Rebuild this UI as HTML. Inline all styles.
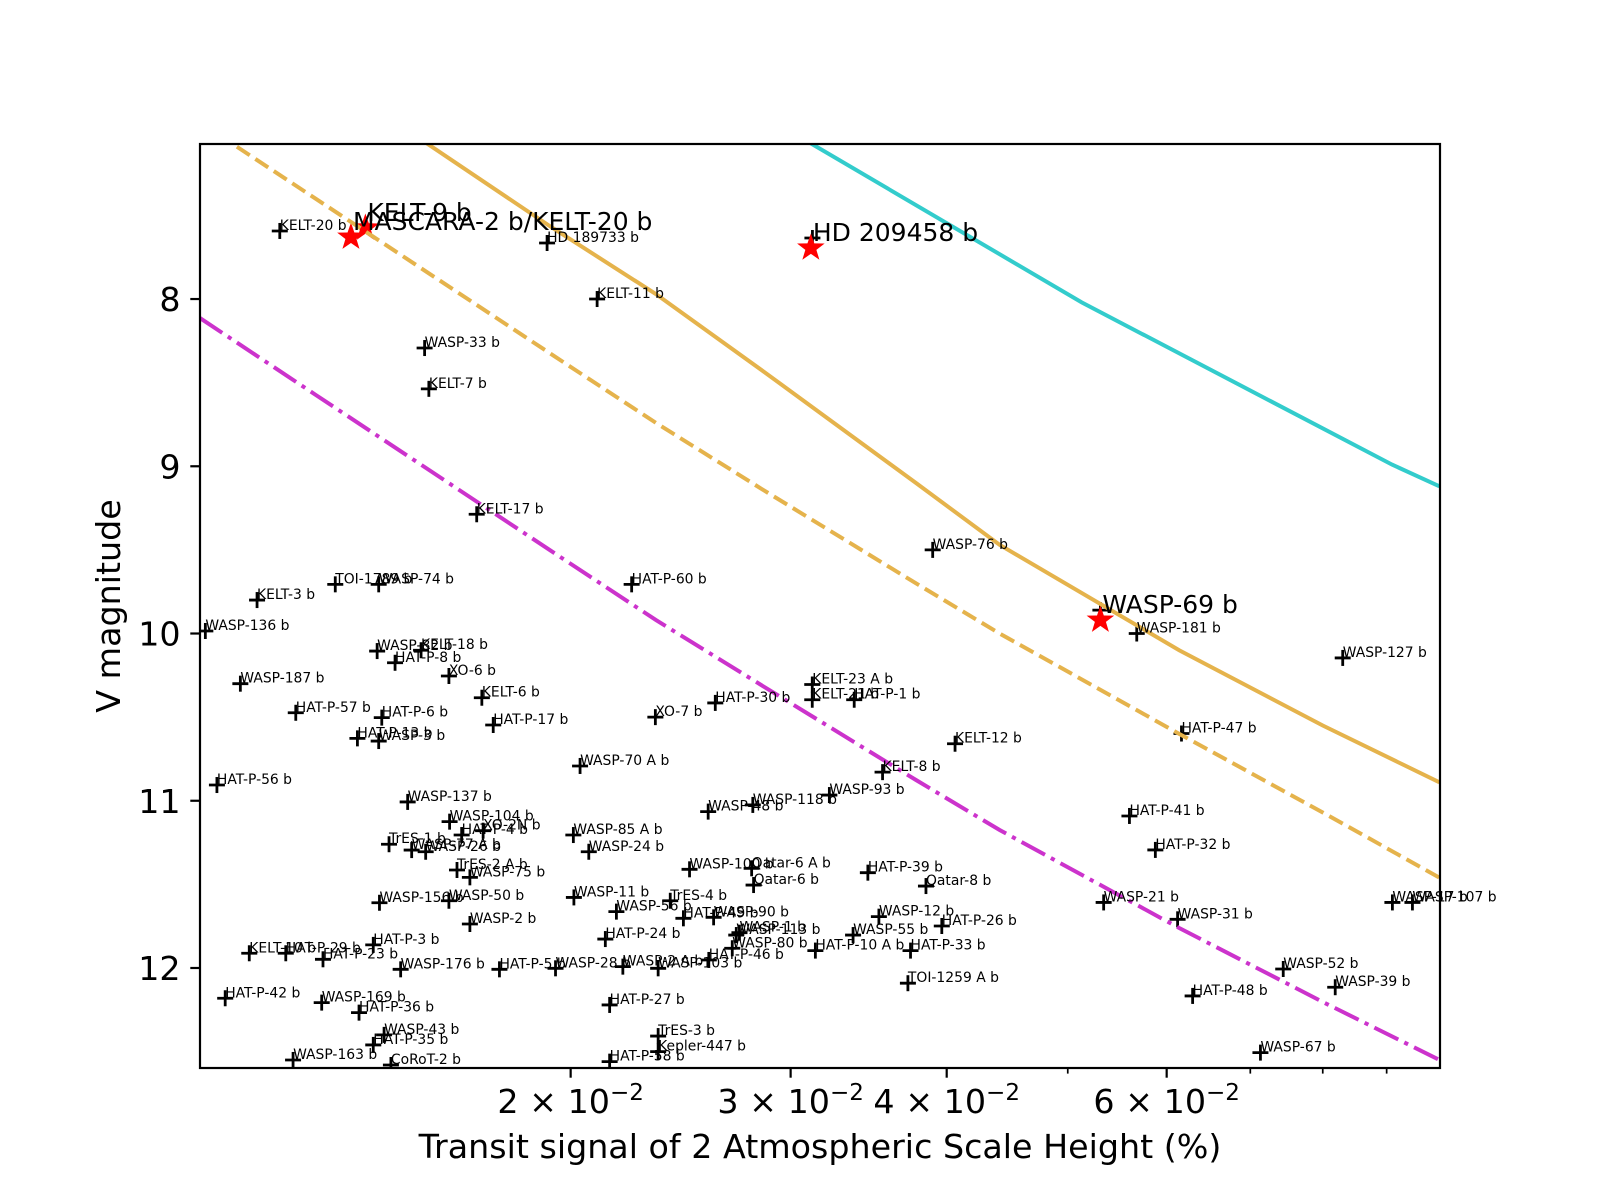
<!DOCTYPE html>
<html>
<head>
<meta charset="utf-8">
<style>
  html,body{margin:0;padding:0;background:#fff;}
  svg{display:block;font-family:"DejaVu Sans","Liberation Sans",sans-serif;}
</style>
</head>
<body>
<svg id="chart" width="1600" height="1200" viewBox="0 0 1600 1200" xmlns="http://www.w3.org/2000/svg">
  <rect x="0" y="0" width="1600" height="1200" fill="#fff"/>
  <defs>
    <clipPath id="plotclip"><rect x="200" y="144" width="1240" height="924"/></clipPath>
  </defs>
  <g id="marks" clip-path="url(#plotclip)"></g>
  <g id="labels"></g>
  <g id="axes"></g>
</svg>
<script>
// ---------- data ----------
const planetNames = ["KELT-20 b","HD 189733 b","KELT-11 b","","WASP-33 b","KELT-7 b","KELT-17 b","WASP-76 b","TOI-1789 b","WASP-74 b","KELT-3 b","HAT-P-60 b","WASP-136 b","","WASP-181 b","WASP-127 b","WASP-82 b","KELT-18 b","HAT-P-8 b","XO-6 b","WASP-187 b","KELT-23 A b","KELT-6 b","HAT-P-30 b","KELT-21 b","HAT-P-1 b","HAT-P-57 b","HAT-P-6 b","XO-7 b","HAT-P-17 b","HAT-P-47 b","HAT-P-13 b","WASP-3 b","KELT-12 b","WASP-70 A b","KELT-8 b","HAT-P-56 b","WASP-93 b","WASP-137 b","WASP-118 b","WASP-48 b","HAT-P-41 b","WASP-104 b","HAT-P-4 b","XO-2N b","WASP-85 A b","TrES-1 b","WASP-77 A b","WASP-26 b","WASP-24 b","HAT-P-32 b","WASP-100 b","Qatar-6 A b","HAT-P-39 b","TrES-2 A b","WASP-75 b","Qatar-6 b","Qatar-8 b","WASP-11 b","TrES-4 b","WASP-156 b","WASP-50 b","WASP-21 b","WASP-17 b","WASP-107 b","WASP-56 b","HAT-P-49 b","WASP-90 b","WASP-12 b","WASP-31 b","WASP-2 b","HAT-P-26 b","WASP-1 b","WASP-113 b","WASP-55 b","HAT-P-24 b","HAT-P-3 b","WASP-80 b","HAT-P-10 A b","HAT-P-33 b","KELT-10 b","HAT-P-29 b","HAT-P-23 b","HAT-P-46 b","WASP-2 A b","WASP-176 b","HAT-P-5 b","WASP-28 b","WASP-103 b","WASP-52 b","TOI-1259 A b","WASP-39 b","HAT-P-48 b","HAT-P-42 b","WASP-169 b","HAT-P-27 b","HAT-P-36 b","WASP-43 b","TrES-3 b","HAT-P-35 b","Kepler-447 b","WASP-67 b","HAT-P-58 b","WASP-163 b","CoRoT-2 b","",""];
const planetSignal = [0.01170,0.01915,0.0210,0.03123,0.01528,0.01540,0.01682,0.03898,0.01296,0.01404,0.01122,0.02238,0.01020,0.0531,0.05678,0.0830,0.0140,0.01518,0.01447,0.01598,0.01088,0.03122,0.01698,0.02611,0.03122,0.03373,0.01205,0.01412,0.02338,0.01734,0.06166,0.0135,0.01404,0.04062,0.02035,0.03554,0.01042,0.03222,0.01481,0.02798,0.02577,0.05602,0.0160,0.01636,0.01702,0.0201,0.01431,0.01492,0.01531,0.02068,0.05876,0.0249,0.02792,0.03459,0.01622,0.01661,0.02802,0.0385,0.02012,0.02403,0.01406,0.01598,0.05342,0.09096,0.09438,0.02176,0.02462,0.02603,0.0353,0.06122,0.01661,0.03964,0.0273,0.02714,0.03366,0.02132,0.0139,0.02694,0.0314,0.03742,0.01106,0.01183,0.01267,0.0258,0.02202,0.01462,0.01754,0.01945,0.0235,0.07438,0.03724,0.08186,0.06294,0.01058,0.01264,0.02149,0.01354,0.01418,0.0235,0.0139,0.0235,0.07132,0.02149,0.01199,0.01436,0.01342,0.02686];
const planetVmag = [7.593,7.665,8.00,7.635,8.293,8.537,9.287,9.50,9.706,9.706,9.80,9.706,9.985,9.86,10.0,10.146,10.105,10.10,10.175,10.254,10.30,10.305,10.384,10.415,10.396,10.396,10.474,10.503,10.50,10.547,10.598,10.627,10.643,10.659,10.792,10.829,10.906,10.966,11.007,11.025,11.065,11.091,11.125,11.205,11.179,11.205,11.26,11.295,11.305,11.305,11.294,11.41,11.404,11.43,11.414,11.458,11.504,11.51,11.578,11.598,11.61,11.598,11.608,11.608,11.608,11.663,11.703,11.697,11.693,11.709,11.737,11.749,11.789,11.803,11.803,11.827,11.862,11.882,11.896,11.896,11.912,11.912,11.948,11.952,11.992,12.008,12.008,12.002,12.002,12.006,12.091,12.115,12.167,12.181,12.207,12.221,12.267,12.40,12.407,12.46,12.50,12.506,12.56,12.55,12.58,12.65,12.65];

const starNames = ["MASCARA-2 b/KELT-20 b","KELT-9 b","HD 209458 b","WASP-69 b"];
const starSignal = [0.01334,0.0137,0.03114,0.0531];
const starVmag = [7.63,7.575,7.695,9.92];

const curveSignal = [0.0101,0.0125,0.015,0.0193,0.0234,0.0285,0.0378,0.0441,0.0614,0.0800,0.0992];
const magentaVmag = [8.114,8.573,8.965,9.507,9.919,10.314,10.876,11.175,11.761,12.203,12.55];
const dashedVmag = [6.944,7.40,7.79,8.33,8.74,9.14,9.70,10.00,10.60,11.07,11.46];
const solidVmag = [6.16,6.62,7.02,7.57,7.97,8.43,9.10,9.47,10.10,10.55,10.89];
const cyanSignal = [0.0285,0.0312,0.0513,0.0909,0.0992];
const cyanVmag = [6.90,7.073,8.02,8.99,9.12];

const yTicks = [8,9,10,11,12];
const yTickLabels = ["8","9","10","11","12"];
const xMajorTicks = [0.02,0.03,0.04,0.06];
const xMajorMantissa = ["2","3","4","6"];
const xMinorTicks = [0.05,0.07,0.08,0.09];

// ---------- scales ----------
const X0=200, X1=1440, Y0=144, Y1=1068;
const xMin=0.0101, xMax=0.0993, vTop=7.073, vBot=12.598;
function xScale(v){return X0+(X1-X0)*(Math.log10(v)-Math.log10(xMin))/(Math.log10(xMax)-Math.log10(xMin));}
function yScale(m){return Y0+(Y1-Y0)*(m-vTop)/(vBot-vTop);}

const NS="http://www.w3.org/2000/svg";
function mk(tag,attrs,parent){const e=document.createElementNS(NS,tag);for(const k in attrs)e.setAttribute(k,attrs[k]);if(parent)parent.appendChild(e);return e;}
const marks=document.getElementById('marks');
const labels=document.getElementById('labels');
const axes=document.getElementById('axes');

// plus markers
for(let i=0;i<planetSignal.length;i++){
  const cx=xScale(planetSignal[i]), cy=yScale(planetVmag[i]);
  const g=mk('g',{},marks);
  
  
  mk('line',{x1:cx-8,y1:cy,x2:cx+8,y2:cy,stroke:'#000','stroke-width':2.8},g);
  mk('line',{x1:cx,y1:cy-8,x2:cx,y2:cy+8,stroke:'#000','stroke-width':2.8},g);
}
// stars
function starPath(cx,cy,R,r){let d='';for(let k=0;k<10;k++){const rad=k%2?r:R;const a=-Math.PI/2+k*Math.PI/5;d+=(k?'L':'M')+(cx+rad*Math.cos(a)).toFixed(2)+','+(cy+rad*Math.sin(a)).toFixed(2);}return d+'Z';}
for(let i=0;i<starSignal.length;i++){
  const p=mk('path',{d:starPath(xScale(starSignal[i]),yScale(starVmag[i]),14.5,5.8),fill:'#ff0000'},marks);
  
  
}
// lines
function linePath(xs,ys){return xs.map((v,i)=>(i?'L':'M')+xScale(v).toFixed(2)+','+yScale(ys[i]).toFixed(2)).join('');}
const l1=mk('path',{d:linePath(curveSignal,magentaVmag),fill:'none',stroke:'#cc33cc','stroke-width':4,'stroke-dasharray':'26.7,6.7,4.2,6.7'},marks);


const l2=mk('path',{d:linePath(curveSignal,dashedVmag),fill:'none',stroke:'#e5b34c','stroke-width':4,'stroke-dasharray':'15.4,6.7'},marks);


const l3=mk('path',{d:linePath(curveSignal,solidVmag),fill:'none',stroke:'#e5b34c','stroke-width':4},marks);


const l4=mk('path',{d:linePath(cyanSignal,cyanVmag),fill:'none',stroke:'#33cccc','stroke-width':4},marks);



// labels
for(let i=0;i<planetSignal.length;i++){
  if(!planetNames[i])continue;
  const t=mk('text',{x:xScale(planetSignal[i]),y:yScale(planetVmag[i])-1,'font-size':13.9,fill:'#000'},labels);
  t.textContent=planetNames[i];
  
  
}
for(let i=0;i<starSignal.length;i++){
  const t=mk('text',{x:xScale(starSignal[i])+2,y:yScale(starVmag[i])-7,'font-size':25,fill:'#000'},labels);
  t.textContent=starNames[i];
  
  
}

// frame
const fr=mk('rect',{x:X0,y:Y0,width:X1-X0,height:Y1-Y0,fill:'none',stroke:'#000','stroke-width':2.2},axes);


// y ticks
for(let i=0;i<yTicks.length;i++){
  const y=yScale(yTicks[i]);
  const tk=mk('line',{x1:X0-9.7,y1:y,x2:X0,y2:y,stroke:'#000','stroke-width':2.2},axes);
  
  
  const t=mk('text',{x:X0-19.4,y:y+12,'font-size':33.3,'text-anchor':'end',fill:'#000'},axes);
  t.textContent=yTickLabels[i];
  
  
}
// x major ticks
for(let i=0;i<xMajorTicks.length;i++){
  const x=xScale(xMajorTicks[i]);
  const tk=mk('line',{x1:x,y1:Y1,x2:x,y2:Y1+9.7,stroke:'#000','stroke-width':2.2},axes);
  
  
  const t=mk('text',{x:x,y:1113,'font-size':33.3,'text-anchor':'middle',fill:'#000'},axes);
  
  
  const a=mk('tspan',{},t);
  a.textContent=xMajorMantissa[i]+' \u00d7 10';
  const s=mk('tspan',{'font-size':23,dy:-13},t);
  s.textContent='\u22122';
}
// x minor ticks
for(let i=0;i<xMinorTicks.length;i++){
  const x=xScale(xMinorTicks[i]);
  const tk=mk('line',{x1:x,y1:Y1,x2:x,y2:Y1+5.6,stroke:'#000','stroke-width':1.7},axes);
  
  
}
// axis titles
const xt=mk('text',{x:820,y:1158,'font-size':33.3,'text-anchor':'middle',fill:'#000'},axes);
xt.textContent='Transit signal of 2 Atmospheric Scale Height (%)';


const yt=mk('text',{x:0,y:0,'font-size':33.3,'text-anchor':'middle',fill:'#000',transform:'translate(120,606) rotate(-90)'},axes);
yt.textContent='V magnitude';


</script>
</body>
</html>
